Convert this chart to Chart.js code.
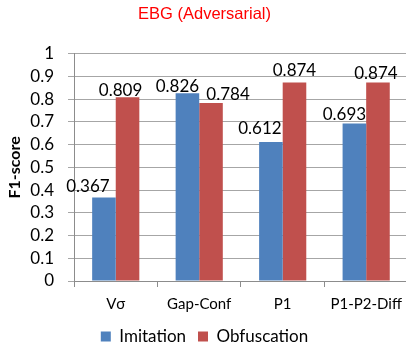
<!DOCTYPE html>
<html>
<head>
<meta charset="utf-8">
<script src="https://cdn.jsdelivr.net/npm/chart.js@4"></script>
<style>
  html, body { margin: 0; padding: 0; background: #fff; overflow: hidden; }
  #wrap { width: 410px; height: 345px; position: relative; }
</style>
</head>
<body>
<div id="wrap"><canvas id="grafico"></canvas></div>
<script>
// datos
const categorias = ['V\u03c3', 'Gap-Conf', 'P1', 'P1-P2-Diff'];
const imitacion = [0.367, 0.826, 0.612, 0.693];
const ofuscacion = [0.809, 0.784, 0.874, 0.874];
const ticksY = [0, 0.1, 0.2, 0.3, 0.4, 0.5, 0.6, 0.7, 0.8, 0.9, 1];

// desplazamiento de las etiquetas (como las coloca Excel para que no se pisen)
const desplazaX = [[-16, -10, -11, -10], [-7, 17, 0, -2]];
const desplazaY = [[6, 1, 8, 4], [1, 3, 6, 3]];

const fuente = 'Lato, "Open Sans", sans-serif';

// pinta los valores encima de cada barra
const etiquetas = {
  id: 'etiquetas',
  afterDatasetsDraw(chart) {
    const ctx = chart.ctx;
    ctx.save();
    ctx.font = '17px ' + fuente;
    ctx.fillStyle = '#000';
    ctx.textAlign = 'center';
    ctx.textBaseline = 'alphabetic';
    chart.data.datasets.forEach((ds, d) => {
      chart.getDatasetMeta(d).data.forEach((barra, i) => {
        ctx.fillText(ds.data[i].toFixed(3), barra.x + desplazaX[d][i], barra.y - desplazaY[d][i]);
      });
    });
    ctx.restore();
  }
};

new Chart(document.getElementById('grafico'), {
  type: 'bar',
  data: {
    labels: categorias,
    datasets: [
      { label: 'Imitation', data: imitacion, backgroundColor: '#4F81BD' },
      { label: 'Obfuscation', data: ofuscacion, backgroundColor: '#C0504D' }
    ]
  },
  plugins: [etiquetas],
  options: {
    responsive: true,
    maintainAspectRatio: false,
    animation: false,
    layout: { padding: { top: 0, right: 1, bottom: -10, left: 0 } },
    datasets: { bar: { categoryPercentage: 0.565, barPercentage: 1 } },
    plugins: {
      title: {
        display: true,
        text: 'EBG (Adversarial)',
        color: '#ff0000',
        font: { family: '"Liberation Sans", Arial, sans-serif', size: 16.5, weight: 'normal' },
        padding: { top: 5, bottom: 29 }
      },
      legend: {
        position: 'bottom',
        labels: {
          boxWidth: 10, boxHeight: 10, padding: 12,
          color: '#000',
          font: { family: fuente, size: 17 }
        }
      },
      tooltip: { enabled: false }
    },
    scales: {
      x: {
        grid: { offset: true, drawOnChartArea: false, color: '#8c8c8c', tickLength: 6 },
        border: { color: '#8c8c8c' },
        ticks: { color: '#000', font: { family: fuente, size: 15 }, padding: 8 },
        afterFit(scale) { scale.height -= 5; }
      },
      y: {
        min: 0, max: 1,
        afterBuildTicks(axis) { axis.ticks = ticksY.map(v => ({ value: v })); },
        afterFit(scale) { scale.width = 74; },
        grid: { color: '#a6a6a6', tickLength: 6 },
        border: { color: '#8c8c8c' },
        ticks: {
          color: '#000', font: { family: fuente, size: 17 }, padding: 14,
          autoSkip: false,
          callback: (v) => String(Math.round(v * 10) / 10)
        },
        title: {
          display: true, text: 'F1-score', color: '#000',
          font: { family: fuente, size: 16, weight: 'bold' }, padding: { top: 5, bottom: 0 }
        }
      }
    }
  }
});
</script>
</body>
</html>
